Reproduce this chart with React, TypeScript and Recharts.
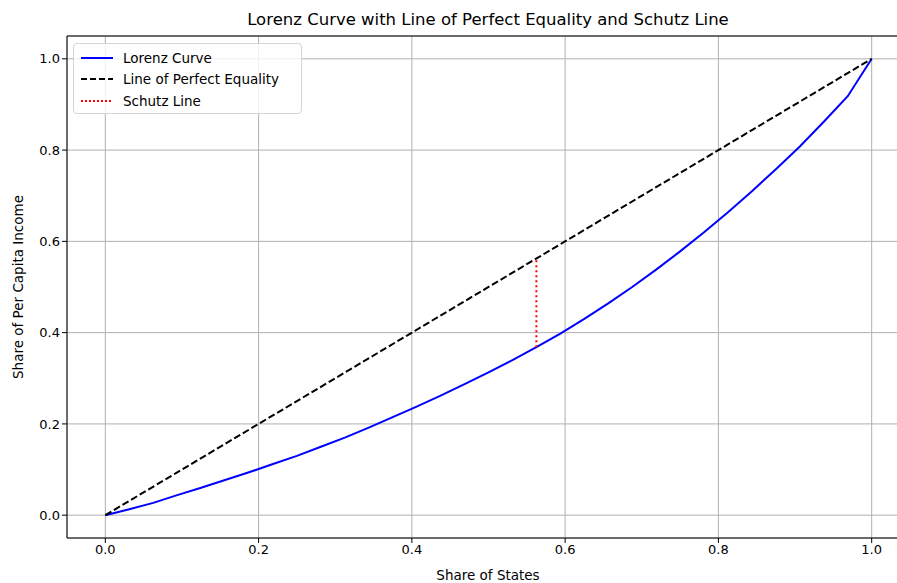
import React from "react";
import {
  LineChart,
  Line,
  XAxis,
  YAxis,
  CartesianGrid,
  ReferenceLine,
} from "recharts";

// cumulative share of states (32 states) and cumulative share of per capita income
const stateShare = [
  0, 0.03125, 0.0625, 0.09375, 0.125, 0.15625, 0.1875, 0.21875, 0.25, 0.28125,
  0.3125, 0.34375, 0.375, 0.40625, 0.4375, 0.46875, 0.5, 0.53125, 0.5625,
  0.59375, 0.625, 0.65625, 0.6875, 0.71875, 0.75, 0.78125, 0.8125, 0.84375,
  0.875, 0.90625, 0.9375, 0.96875, 1,
];
const incomeShare = [
  0, 0.013, 0.027, 0.044, 0.06, 0.077, 0.094, 0.112, 0.13, 0.15, 0.17, 0.192,
  0.215, 0.238, 0.262, 0.287, 0.313, 0.34, 0.368, 0.398, 0.43, 0.464, 0.5,
  0.538, 0.578, 0.62, 0.664, 0.71, 0.758, 0.808, 0.862, 0.918, 1,
];
const equalityX = [0, 1];
const equalityY = [0, 1];
const schutzX = [0.5625, 0.5625];
const schutzY = [0.368, 0.5625];
const ticks = [0, 0.2, 0.4, 0.6, 0.8, 1];

const lorenzData = stateShare.map((x, i) => ({ x, y: incomeShare[i] }));
const equalityData = equalityX.map((x, i) => ({ x, y: equalityY[i] }));
const schutzData = schutzX.map((x, i) => ({ x, y: schutzY[i] }));

const FONT = "DejaVu Sans, sans-serif";
const tickStyle = { fill: "#000", fontSize: 13, fontFamily: FONT };

const legendItems = [
  { label: "Lorenz Curve", color: "#0000ff", dash: undefined },
  { label: "Line of Perfect Equality", color: "#000", dash: "6 3" },
  { label: "Schutz Line", color: "#ff0000", dash: "2 2" },
];

function LegendBox() {
  return (
    <div
      style={{
        position: "absolute",
        left: 73,
        top: 43,
        width: 229,
        height: 71,
        border: "1px solid #d5d5d5",
        borderRadius: 4,
        background: "rgba(255,255,255,0.8)",
        boxSizing: "border-box",
        padding: "3px 0 0 6px",
        fontFamily: FONT,
        fontSize: 13.5,
      }}
    >
      {legendItems.map((it) => (
        <div key={it.label} style={{ display: "flex", alignItems: "center", height: 21.5 }}>
          <svg width={34} height={10} style={{ marginRight: 9 }}>
            <line
              x1={1}
              y1={5}
              x2={33}
              y2={5}
              stroke={it.color}
              strokeWidth={2}
              strokeDasharray={it.dash}
            />
          </svg>
          <span>{it.label}</span>
        </div>
      ))}
    </div>
  );
}

export default function App() {
  return (
    <div
      style={{
        position: "absolute",
        left: 0,
        top: 0,
        width: 897,
        height: 583,
        overflow: "hidden",
        background: "#fff",
        fontFamily: FONT,
      }}
    >
      <div
        style={{
          position: "absolute",
          top: 10,
          left: 67,
          width: 842,
          textAlign: "center",
          fontSize: 16.5,
        }}
      >
        Lorenz Curve with Line of Perfect Equality and Schutz Line
      </div>
      <div
        style={{
          position: "absolute",
          top: 567,
          left: 67,
          width: 842,
          textAlign: "center",
          fontSize: 13.5,
        }}
      >
        Share of States
      </div>
      <div
        style={{
          position: "absolute",
          left: 18,
          top: 287,
          transform: "translate(-50%, -50%) rotate(-90deg)",
          whiteSpace: "nowrap",
          fontSize: 13.5,
        }}
      >
        Share of Per Capita Income
      </div>
      <LineChart
        width={911}
        height={583}
        margin={{ top: 36, right: 1, bottom: 0, left: 0 }}
      >
        <CartesianGrid
          xAxisId="main"
          yAxisId="main"
          stroke="#b0b0b0"
          strokeWidth={1}
        />
        <XAxis
          xAxisId="main"
          type="number"
          dataKey="x"
          domain={[-0.05, 1.05]}
          ticks={ticks}
          tickFormatter={(v: number) => v.toFixed(1)}
          tick={tickStyle}
          tickSize={5}
          stroke="#000"
          height={45}
          allowDataOverflow
        />
        <YAxis
          yAxisId="main"
          type="number"
          domain={[-0.05, 1.05]}
          ticks={ticks}
          tickFormatter={(v: number) => v.toFixed(1)}
          tick={tickStyle}
          tickSize={5}
          stroke="#000"
          width={67}
          allowDataOverflow
        />
        {/* top spine of the frame */}
        <ReferenceLine
          xAxisId="main"
          yAxisId="main"
          y={1.05}
          stroke="#000"
          strokeWidth={1}
          ifOverflow="extendDomain"
        />
        <Line
          xAxisId="main"
          yAxisId="main"
          data={lorenzData}
          dataKey="y"
          stroke="#0000ff"
          strokeWidth={2}
          dot={false}
          type="linear"
          isAnimationActive={false}
        />
        <Line
          xAxisId="main"
          yAxisId="main"
          data={equalityData}
          dataKey="y"
          stroke="#000"
          strokeWidth={2}
          strokeDasharray="7 3"
          dot={false}
          type="linear"
          isAnimationActive={false}
        />
        <Line
          xAxisId="main"
          yAxisId="main"
          data={schutzData}
          dataKey="y"
          stroke="#ff0000"
          strokeWidth={2}
          strokeDasharray="2 3"
          dot={false}
          type="linear"
          isAnimationActive={false}
        />
      </LineChart>
      <LegendBox />
    </div>
  );
}
